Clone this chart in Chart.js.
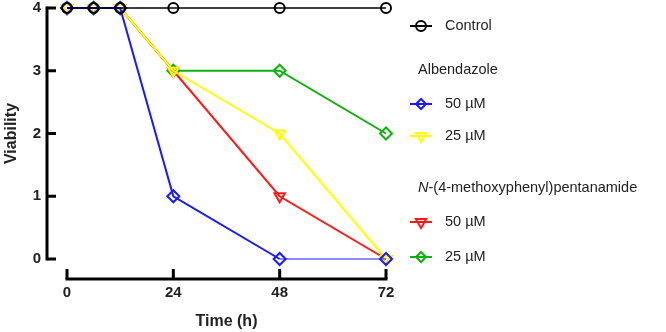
<!DOCTYPE html>
<html><head><meta charset="utf-8">
<script src="https://cdn.jsdelivr.net/npm/chart.js@4.4.1/dist/chart.umd.min.js"></script>
<style>html,body{margin:0;padding:0;background:#fff}canvas{display:block}</style>
</head>
<body>
<canvas id="c" width="666" height="332"></canvas>
<script>
// ---- data ----
const timePoints = [0, 6, 12, 24, 48, 72];
const controlVals = [4, 4, 4, 4, 4, 4];
const alb50Vals   = [4, 4, 4, 1, 0, 0];
const alb25Vals   = [4, 4, 4, 3, 2, 0];
const nmp50Vals   = [4, 4, 4, 3, 1, 0];
const nmp25Vals   = [4, 4, 4, 3, 3, 2];
const xTickValues = [0, 24, 48, 72];
const yTickValues = [0, 1, 2, 3, 4];
const seriesLabels = ['Control', '50 µM', '25 µM', '50 µM', '25 µM'];
const groupLabels = ['Albendazole', 'N-(4-methoxyphenyl)pentanamide'];

const FONT = '"Liberation Sans", Arial, sans-serif';
const toXY = vals => vals.map((v, i) => ({x: timePoints[i], y: v}));

function ds(label, vals, color, style, rot, radius, bw) {
  return {
    label, data: toXY(vals), borderColor: color, backgroundColor: 'transparent',
    pointBorderColor: color, pointBackgroundColor: 'transparent',
    pointStyle: style, pointRotation: rot, pointRadius: radius, pointHoverRadius: radius,
    pointBorderWidth: 2, borderWidth: bw, clip: false, tension: 0
  };
}

const datasets = [
  ds(seriesLabels[0], controlVals, '#000000', 'circle', 0, 5, 1.5),
  ds(seriesLabels[1], alb50Vals, '#1a1aff', 'rectRot', 0, 6, 2),
  ds(seriesLabels[2], alb25Vals, '#ffff00', 'triangle', 180, 6, 2),
  ds(seriesLabels[3], nmp50Vals, '#ff1a1a', 'triangle', 180, 6, 2),
  ds(seriesLabels[4], nmp25Vals, '#10b010', 'rectRot', 0, 6, 2)
];
datasets[1].segment = {borderWidth: c => (c.p0.parsed.y === 0 && c.p1.parsed.y === 0 ? 1.2 : 2)};

const axesPlugin = {
  id: 'prismAxes',
  beforeDatasetsDraw(chart) {
    const {ctx, chartArea, scales: {x, y}} = chart;
    ctx.save();
    ctx.strokeStyle = '#000'; ctx.lineWidth = 3; ctx.lineCap = 'butt';
    const sx = chartArea.left - 20;
    const sy = chartArea.bottom + 20;
    ctx.beginPath();
    ctx.moveTo(sx, y.getPixelForValue(4) - 1.5);
    ctx.lineTo(sx, y.getPixelForValue(0) + 1.5);
    ctx.stroke();
    yTickValues.forEach(v => {
      const py = y.getPixelForValue(v);
      ctx.beginPath(); ctx.moveTo(sx, py); ctx.lineTo(sx + 9, py); ctx.stroke();
    });
    ctx.beginPath();
    ctx.moveTo(x.getPixelForValue(0) - 1.5, sy);
    ctx.lineTo(x.getPixelForValue(72) + 1.5, sy);
    ctx.stroke();
    xTickValues.forEach(v => {
      const px = x.getPixelForValue(v);
      ctx.beginPath(); ctx.moveTo(px, sy); ctx.lineTo(px, sy - 10); ctx.stroke();
    });
    ctx.restore();
  }
};

const legendPlugin = {
  id: 'groupLegend',
  afterDraw(chart) {
    const {ctx} = chart;
    ctx.save();
    ctx.font = '14.5px ' + FONT;
    ctx.textBaseline = 'middle';
    const rows = [
      {type: 'item', ds: 0, y: 26},
      {type: 'group', text: 0, y: 70},
      {type: 'item', ds: 1, y: 104},
      {type: 'item', ds: 2, y: 136},
      {type: 'group', text: 1, y: 188},
      {type: 'item', ds: 3, y: 222},
      {type: 'item', ds: 4, y: 257}
    ];
    rows.forEach(r => {
      ctx.fillStyle = '#222';
      if (r.type === 'group') {
        const t = groupLabels[r.text];
        let x0 = 418;
        if (t.startsWith('N-')) {
          ctx.font = 'italic 14.5px ' + FONT;
          ctx.fillText('N', x0, r.y);
          x0 += ctx.measureText('N').width;
          ctx.font = '14.5px ' + FONT;
          ctx.fillText(t.slice(1), x0, r.y);
        } else {
          ctx.fillText(t, x0, r.y);
        }
      } else {
        const d = chart.data.datasets[r.ds];
        ctx.strokeStyle = d.borderColor; ctx.lineWidth = 2;
        ctx.beginPath(); ctx.moveTo(410, r.y); ctx.lineTo(432, r.y); ctx.stroke();
        ctx.fillStyle = 'rgba(0,0,0,0)';
        const rad = d.pointStyle === 'triangle' ? 6 : 5;
        Chart.helpers.drawPoint(ctx, {pointStyle: d.pointStyle, rotation: d.pointRotation, radius: rad, borderWidth: 2}, 421, r.y);
        ctx.fillStyle = '#222';
        ctx.fillText(d.label, 445, r.y);
      }
    });
    ctx.restore();
  }
};

new Chart(document.getElementById('c'), {
  type: 'line',
  data: {datasets},
  options: {
    responsive: false, animation: false, devicePixelRatio: 1,
    layout: {padding: {left: 0, top: 8, right: 280, bottom: 0}},
    plugins: {legend: {display: false}, tooltip: {enabled: false}},
    scales: {
      x: {
        type: 'linear', min: 0, max: 72,
        afterBuildTicks: s => { s.ticks = xTickValues.map(v => ({value: v})); },
        afterFit: s => { s.height = 73; s.paddingLeft = 0; s.paddingRight = 0; },
        border: {display: false}, grid: {display: false, drawTicks: false},
        ticks: {padding: 25, color: '#222', font: {family: FONT, size: 15, weight: 'bold'}},
        title: {display: true, text: 'Time (h)', color: '#222', padding: {top: 0, bottom: 1}, font: {family: FONT, size: 16, weight: 'bold'}}
      },
      y: {
        type: 'linear', min: 0, max: 4,
        afterBuildTicks: s => { s.ticks = yTickValues.map(v => ({value: v})); },
        afterFit: s => { s.width = 67; s.paddingTop = 0; s.paddingBottom = 0; },
        border: {display: false}, grid: {display: false, drawTicks: false},
        ticks: {padding: 26, color: '#222', font: {family: FONT, size: 15, weight: 'bold'}},
        title: {display: true, text: 'Viability', color: '#222', padding: {top: 2, bottom: 0}, font: {family: FONT, size: 16, weight: 'bold'}}
      }
    }
  },
  plugins: [axesPlugin, legendPlugin]
});
</script>
</body></html>
